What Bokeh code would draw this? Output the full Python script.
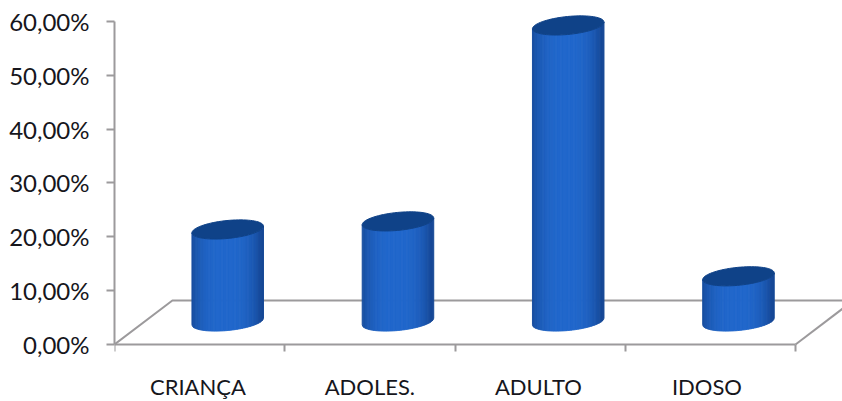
import numpy as np
from bokeh.embed import file_html
from bokeh.models import FixedTicker, Range1d
from bokeh.plotting import figure
from bokeh.resources import INLINE

categories = ["CRIANÇA", "ADOLES.", "ADULTO", "IDOSO"]
label_positions = [0.49, 1.50, 2.49, 3.48]
shares = [17.1, 18.6, 55.0, 8.4]
y_ticks = [0, 10, 20, 30, 40, 50, 60]
y_tick_labels = ["0,00%", "10,00%", "20,00%", "30,00%", "40,00%", "50,00%", "60,00%"]

# Oblique projection of the floor, in axis units
FLOOR_DX = 0.34
FLOOR_DY = 8.18
# Cylinder placement on the floor
BASE_DX = 0.165
BASE_DY = 4.27
RADIUS_X = 0.21
RADIUS_Y = 1.67
TILT = 0.62

AXIS_COLOR = "#9c9a9c"
TEXT_COLOR = "#16161c"
CAP_COLOR = "#0f4288"

# The frame fills the page; axes are pinned to the zero lines so that the
# labels and the cylinder caps can use the space around the 0-60 band.
p = figure(
    width=842, height=401, output_backend="svg", toolbar_location=None,
    x_range=Range1d(0, 728 / 170.25), y_range=Range1d(-57 / 5.383, 60 + 21 / 5.383),
    min_border_left=114, min_border_right=0, min_border_top=0, min_border_bottom=0,
    background_fill_color="white", border_fill_color="white", outline_line_color=None,
)
p.grid.visible = False

# Value axis
p.yaxis.bounds = (0, 60)
p.yaxis.ticker = FixedTicker(ticks=y_ticks)
p.yaxis.major_label_overrides = dict(zip(y_ticks, y_tick_labels))
p.yaxis.major_label_text_font = "Lato"
p.yaxis.major_label_text_font_size = "24px"
p.yaxis.major_label_text_color = TEXT_COLOR
p.yaxis.major_label_standoff = 17
p.yaxis.major_tick_in = 0
p.yaxis.major_tick_out = 8
p.yaxis.minor_tick_line_color = None
p.yaxis.axis_line_color = AXIS_COLOR
p.yaxis.axis_line_width = 2
p.yaxis.major_tick_line_color = AXIS_COLOR
p.yaxis.major_tick_line_width = 2

# Category axis: labels sit mid-slot, ticks mark the slot boundaries
slots = np.arange(len(categories))
p.xaxis.fixed_location = 0
p.xaxis.ticker = FixedTicker(ticks=label_positions, minor_ticks=list(range(len(categories) + 1)))
p.xaxis.major_label_overrides = dict(zip(label_positions, categories))
p.xaxis.major_label_text_font = "Lato"
p.xaxis.major_label_text_font_size = "22px"
p.xaxis.major_label_text_color = TEXT_COLOR
p.xaxis.major_label_standoff = 22
p.xaxis.major_tick_line_color = None
p.xaxis.axis_line_color = None
p.xaxis.minor_tick_in = 0
p.xaxis.minor_tick_out = 7
p.xaxis.minor_tick_line_color = AXIS_COLOR
p.xaxis.minor_tick_line_width = 2

# Floor of the 3D plot
n = len(categories)
floor_x = [0, FLOOR_DX, 5.0]
floor_y = [0, FLOOR_DY, FLOOR_DY]
p.line(floor_x, floor_y, line_color=AXIS_COLOR, line_width=2)
p.line([n, n + FLOOR_DX], [0, FLOOR_DY], line_color=AXIS_COLOR, line_width=2)
p.line([0, n], [0, 0], line_color=AXIS_COLOR, line_width=2)


def shade(t):
    """Horizontal cylinder shading: t runs from -1 (left rim) to 1 (right rim)."""
    k = max(0.0, 1 - abs(t + 0.05) ** 3)
    dark = np.array([22, 72, 150])
    light = np.array([34, 104, 204])
    r, g, b = (dark + (light - dark) * k).astype(int)
    return f"#{r:02x}{g:02x}{b:02x}"


# Each cylinder: vertical shaded strips for the wall, then a dark elliptical cap
strips = 44
edges = np.linspace(-1, 1, strips + 1)
for slot, share in zip(slots, shares):
    cx = slot + BASE_DX + 0.5
    base = BASE_DY
    top = BASE_DY + share
    xs, ys, colors = [], [], []
    for lo, hi in zip(edges[:-1], edges[1:]):
        ts = np.linspace(lo, hi, 4)
        arc = RADIUS_Y * np.sqrt(np.clip(1 - ts**2, 0, 1))
        up = top + TILT * ts - arc
        down = base + TILT * ts - arc
        xs.append(list(cx + RADIUS_X * ts) + list(cx + RADIUS_X * ts[::-1]))
        ys.append(list(up) + list(down[::-1]))
        colors.append(shade((lo + hi) / 2))
    p.patches(xs, ys, fill_color=colors, line_color=colors, line_width=1)

    theta = np.linspace(0, 2 * np.pi, 80)
    p.patch(
        cx + RADIUS_X * np.cos(theta),
        top + TILT * np.cos(theta) + RADIUS_Y * np.sin(theta),
        fill_color=CAP_COLOR, line_color=CAP_COLOR, line_width=1,
    )

open("out.html", "w").write(file_html(p, INLINE))
